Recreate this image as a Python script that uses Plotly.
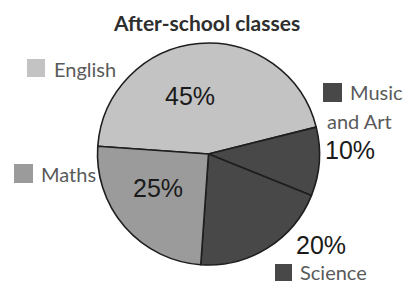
import plotly.graph_objects as go

# Data
categories = ["English", "Music and Art", "Science", "Maths"]
values = [45, 10, 20, 25]
colors = ["#c3c3c3", "#484848", "#484848", "#9b9b9b"]
title_text = "After-school classes"

W, H = 405, 283

def px(x):
    return x / W

def py(y):
    return 1 - y / H

cx, cy, r = 208.5, 154, 111

fig = go.Figure(go.Pie(
    labels=categories,
    values=values,
    sort=False,
    direction="clockwise",
    rotation=-86,
    marker=dict(colors=colors, line=dict(color="#1e1e1e", width=1.6)),
    textinfo="none",
    hoverinfo="label+percent",
    showlegend=False,
    domain=dict(x=[px(cx - r), px(cx + r)], y=[py(cy + r), py(cy - r)]),
))

label_font = dict(family="Lato, sans-serif", size=20, color="#5a5a5a")
pct_font = dict(family="Liberation Sans, Arial, sans-serif", size=25, color="#1a1a1a")

annotations = []
shapes = []

# Legend-like labels: (category index, square x0, y0, size, text x, text y, text)
legend_items = [
    (0, 27, 59, 18, 52, 69, "English"),
    (1, 323, 83, 19, 348, 92, "Music"),
    (3, 14, 164, 19, 39, 174, "Maths"),
    (2, 275, 264, 17, 298, 272, "Science"),
]
for idx, x0, y0, s, tx, ty, txt in legend_items:
    shapes.append(dict(type="rect", xref="paper", yref="paper",
                       x0=px(x0), x1=px(x0 + s), y0=py(y0 + s), y1=py(y0),
                       fillcolor=colors[idx], line=dict(width=0)))
    annotations.append(dict(x=px(tx), y=py(ty), xref="paper", yref="paper",
                            text=txt, showarrow=False, xanchor="left",
                            yanchor="middle", font=label_font))
annotations.append(dict(x=px(325), y=py(121), xref="paper", yref="paper",
                        text="and Art", showarrow=False, xanchor="left",
                        yanchor="middle", font=label_font))

# Percentage labels
pct_pos = [(190, 96), (350, 150), (321, 245), (158, 188)]
for v, (x, y) in zip(values, pct_pos):
    annotations.append(dict(x=px(x), y=py(y), xref="paper", yref="paper",
                            text=f"{v}%", showarrow=False, xanchor="center",
                            yanchor="middle", font=pct_font))

# Title
annotations.append(dict(x=px(206), y=py(22), xref="paper", yref="paper",
                        text=f"<b>{title_text}</b>", showarrow=False,
                        xanchor="center", yanchor="middle",
                        font=dict(family="Lato, sans-serif", size=21, color="#2e2e2e")))

fig.update_layout(
    width=W, height=H,
    margin=dict(l=0, r=0, t=0, b=0),
    paper_bgcolor="white",
    plot_bgcolor="white",
    annotations=annotations,
    shapes=shapes,
)

fig.write_html("out.html",
               config={"displayModeBar": False},
               post_script="document.body.style.margin='0';document.body.style.overflow='hidden';")
